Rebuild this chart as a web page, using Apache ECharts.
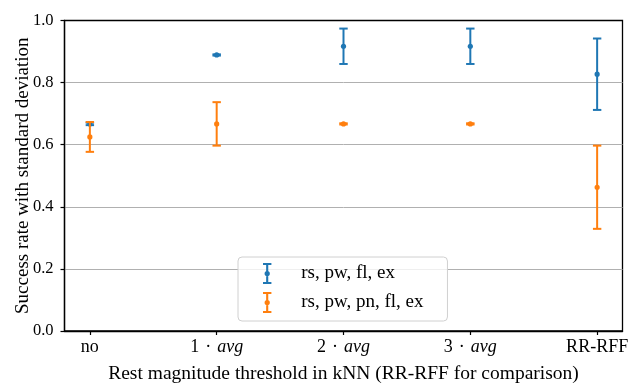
<!DOCTYPE html>
<html>
<head>
<meta charset="utf-8">
<script src="https://cdn.jsdelivr.net/npm/echarts@6/dist/echarts.min.js"></script>
<style>html,body{margin:0;padding:0;background:#fff}#c{width:632px;height:383px}</style>
</head>
<body>
<div id="c"></div>
<script>
const categories = ['no', '1 · avg', '2 · avg', '3 · avg', 'RR-RFF'];
const seriesNames = ['rs, pw, fl, ex', 'rs, pw, pn, fl, ex'];
const blueMean = [0.667, 0.889, 0.917, 0.917, 0.827];
const blueStd = [0.004, 0.002, 0.057, 0.057, 0.115];
const orangeMean = [0.625, 0.667, 0.667, 0.667, 0.463];
const orangeStd = [0.048, 0.070, 0.002, 0.002, 0.134];
const yTicks = [0, 0.2, 0.4, 0.6, 0.8, 1.0];

const FONT = '"Liberation Serif", "Times New Roman", serif';
const colors = ['#1f77b4', '#ff7f0e'];

function toData(mean, std) { return mean.map((m, i) => [i, m, std[i]]); }

function renderErr(params, api) {
  const x = api.value(0), m = api.value(1), s = api.value(2);
  const top = api.coord([x, m + s]);
  const bot = api.coord([x, m - s]);
  const mid = api.coord([x, m]);
  const c = api.visual('color');
  const hw = 4.2;
  const ls = { stroke: c, lineWidth: 2 };
  return {
    type: 'group',
    children: [
      { type: 'line', shape: { x1: top[0], y1: top[1], x2: bot[0], y2: bot[1] }, style: ls },
      { type: 'line', shape: { x1: top[0] - hw, y1: top[1], x2: top[0] + hw, y2: top[1] }, style: ls },
      { type: 'line', shape: { x1: bot[0] - hw, y1: bot[1], x2: bot[0] + hw, y2: bot[1] }, style: ls },
      { type: 'circle', shape: { cx: mid[0], cy: mid[1], r: 2.6 }, style: { fill: c } }
    ]
  };
}

const errIcon = 'path://M0,0H8V2H5V18H8V20H0V18H3V2H0Z M1.5,10A2.5,2.5 0 1,1 6.5,10A2.5,2.5 0 1,1 1.5,10Z';

const chart = echarts.init(document.getElementById('c'), null, { renderer: 'canvas' });
chart.setOption({
  animation: false,
  backgroundColor: '#fff',
  grid: { left: 64.5, right: 9.5, top: 20.5, bottom: 52, containLabel: false, outerBoundsMode: 'none', show: true, borderColor: '#000', borderWidth: 1.3, backgroundColor: 'transparent' },
  legend: {
    data: seriesNames.map(n => ({ name: n, icon: errIcon })),
    orient: 'vertical',
    left: 238, top: 257,
    itemWidth: 58, itemHeight: 21, itemGap: 8,
    padding: [6, 24, 8, 25],
    backgroundColor: 'rgba(255,255,255,0.8)',
    borderColor: '#d0d0d0', borderWidth: 1, borderRadius: 4,
    textStyle: { fontFamily: FONT, fontSize: 19, color: '#000' }
  },
  xAxis: {
    type: 'value', min: -0.2, max: 4.2,
    name: 'Rest magnitude threshold in kNN (RR-RFF for comparison)',
    nameLocation: 'middle', nameGap: 33,
    nameTextStyle: { fontFamily: FONT, fontSize: 19.5, color: '#000' },
    axisLine: { show: true, onZero: false, lineStyle: { color: '#000', width: 1.3 } },
    axisTick: { show: true, customValues: [0, 1, 2, 3, 4], length: 4, lineStyle: { color: '#000', width: 1.2 } },
    axisLabel: {
      customValues: [0, 1, 2, 3, 4], margin: 7,
      formatter: v => {
        const c = categories[Math.round(v)];
        const m = c.match(/^(\d) · (.*)$/);
        return m ? '{n|' + m[1] + '}{d|·}{i|' + m[2] + '}' : '{n|' + c + '}';
      },
      rich: {
        n: { fontFamily: FONT, fontSize: 18, color: '#000' },
        d: { fontFamily: FONT, fontSize: 18, color: '#000', padding: [0, 6, 0, 6] },
        i: { fontFamily: FONT, fontSize: 18, fontStyle: 'italic', color: '#000' }
      }
    },
    splitLine: { show: false }
  },
  yAxis: {
    type: 'value', min: 0, max: 1, interval: 0.2,
    name: 'Success rate with standard deviation',
    nameLocation: 'middle', nameGap: 32, nameMoveOverlap: false,
    nameTextStyle: { fontFamily: FONT, fontSize: 19, color: '#000' },
    axisLine: { show: true, onZero: false, lineStyle: { color: '#000', width: 1.3 } },
    axisTick: { show: true, length: 4, lineStyle: { color: '#000', width: 1.2 } },
    axisLabel: { margin: 11, fontFamily: FONT, fontSize: 16.5, color: '#000', formatter: v => v.toFixed(1) },
    splitLine: { show: true, showMinLine: false, showMaxLine: false, lineStyle: { color: '#b0b0b0', width: 1 } }
  },
  series: [
    { name: seriesNames[0], type: 'custom', renderItem: renderErr, data: toData(blueMean, blueStd), encode: { x: 0, y: 1 }, itemStyle: { color: colors[0] }, z: 3 },
    { name: seriesNames[1], type: 'custom', renderItem: renderErr, data: toData(orangeMean, orangeStd), encode: { x: 0, y: 1 }, itemStyle: { color: colors[1] }, z: 4 }
  ]
});
</script>
</body>
</html>
